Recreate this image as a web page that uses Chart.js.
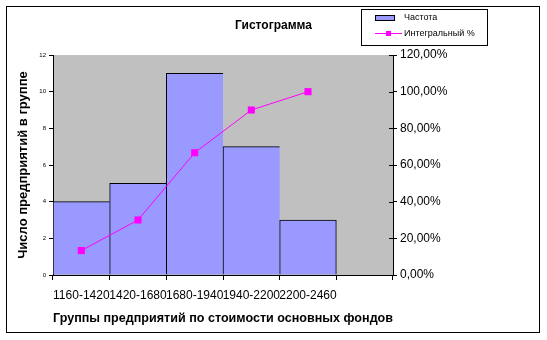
<!DOCTYPE html>
<html>
<head>
<meta charset="utf-8">
<script src="https://cdn.jsdelivr.net/npm/chart.js@4.4.0/dist/chart.umd.min.js"></script>
<style>
  body { margin: 0; background: #fff; }
  canvas { display: block; }
</style>
</head>
<body>
<canvas id="hist" width="547" height="340"></canvas>
<script>
// groups by fixed-asset value, last slot left empty like the Excel output
const groups = ["1160-1420", "1420-1680", "1680-1940", "1940-2200", "2200-2460", ""];
const frequency = [4, 5, 11, 7, 3];
const cumulativePct = [13.33, 30, 66.67, 90, 100];

const FONT = "'Liberation Sans', Arial, sans-serif";
const BAR_COLOR = "#9999FF";
const LINE_COLOR = "#FF00FF";

Chart.defaults.color = "#000";
Chart.defaults.font.family = FONT;

// white page, gray plot area, outer frame, boxed legend
const excelLook = {
  id: "excelLook",
  beforeDraw(chart) {
    const { ctx, chartArea: a } = chart;
    ctx.save();
    ctx.fillStyle = "#fff";
    ctx.fillRect(0, 0, chart.width, chart.height);
    ctx.fillStyle = "#C0C0C0";
    ctx.fillRect(a.left, a.top, a.right - a.left, a.bottom - a.top);
    ctx.restore();
  },
  afterDraw(chart) {
    const { ctx } = chart;
    ctx.save();
    // right axis ticks cross the axis line
    const y1 = chart.scales.y1;
    ctx.strokeStyle = "#000";
    ctx.lineWidth = 1;
    y1.ticks.forEach((t, i) => {
      const py = Math.round(y1.getPixelForTick(i)) + 0.5;
      ctx.beginPath();
      ctx.moveTo(y1.left - 4, py);
      ctx.lineTo(y1.left, py);
      ctx.stroke();
    });

    // frame
    ctx.strokeRect(6.5, 6.5, 533, 326);

    // legend
    const bars = chart.data.datasets[1];
    const line = chart.data.datasets[0];
    ctx.fillStyle = "#fff";
    ctx.fillRect(361.5, 9.5, 126, 36);
    ctx.strokeRect(361.5, 9.5, 126, 36);

    ctx.fillStyle = bars.backgroundColor;
    ctx.fillRect(375.5, 15.5, 19, 5);
    ctx.strokeRect(375.5, 15.5, 19, 5);

    ctx.strokeStyle = line.borderColor;
    ctx.beginPath();
    ctx.moveTo(375, 33.5);
    ctx.lineTo(402, 33.5);
    ctx.stroke();
    ctx.fillStyle = line.backgroundColor;
    ctx.fillRect(386, 31, 5, 5);

    ctx.fillStyle = "#000";
    ctx.font = "9px " + FONT;
    ctx.textBaseline = "middle";
    ctx.fillText(bars.label, 404, 18);
    ctx.fillText(line.label, 404, 33.5);
    ctx.restore();
  }
};

new Chart(document.getElementById("hist"), {
  data: {
    labels: groups,
    datasets: [{
      type: "line",
      label: "Интегральный %",
      data: cumulativePct,
      yAxisID: "y1",
      order: 0,
      borderColor: LINE_COLOR,
      backgroundColor: LINE_COLOR,
      borderWidth: 1,
      tension: 0,
      pointStyle: "rect",
      pointRadius: 5,
      pointBorderWidth: 0
    }, {
      type: "bar",
      label: "Частота",
      data: frequency,
      yAxisID: "y",
      order: 1,
      backgroundColor: BAR_COLOR,
      borderColor: "#000",
      borderWidth: (c) => ({ top: 1, left: 1, bottom: 0, right: c.dataIndex === frequency.length - 1 ? 1 : 0 }),
      borderSkipped: false,
      barPercentage: 1,
      categoryPercentage: 1
    }]
  },
  options: {
    responsive: false,
    animation: false,
    layout: { padding: 0 },
    plugins: {
      legend: { display: false },
      tooltip: { enabled: false },
      title: {
        display: true,
        text: "Гистограмма",
        color: "#000",
        font: { size: 12, weight: "bold" },
        padding: { top: 18, bottom: 22.6 }
      }
    },
    scales: {
      x: {
        offset: true,
        grid: { display: true, drawOnChartArea: false, offset: true, tickLength: 5, color: "#000" },
        border: { display: true, color: "#000" },
        ticks: { autoSkip: false, maxRotation: 0, minRotation: 0, padding: 8, font: { size: 12 } },
        title: {
          display: true,
          text: "Группы предприятий по стоимости основных фондов",
          font: { size: 13, weight: "bold" },
          padding: { top: 0, bottom: 14 }
        },
        afterFit(s) { s.height = 65; }
      },
      y: {
        position: "left",
        min: 0,
        max: 12,
        grid: { display: true, drawOnChartArea: false, tickLength: 4, color: "#000" },
        border: { display: true, color: "#000" },
        ticks: { stepSize: 2, padding: 3, font: { size: 6 } },
        title: {
          display: true,
          text: "Число предприятий в группе",
          font: { size: 13, weight: "bold" },
          padding: { top: 16, bottom: 0 }
        },
        afterFit(s) { s.width = 53; }
      },
      y1: {
        position: "right",
        min: 0,
        max: 120,
        grid: { display: true, drawOnChartArea: false, tickLength: 4, color: "#000" },
        border: { display: true, color: "#000" },
        ticks: {
          stepSize: 20,
          padding: 3,
          font: { size: 12 },
          callback: (v) => v.toFixed(2).replace(".", ",") + "%"
        },
        afterFit(s) { s.width = 154; }
      }
    }
  },
  plugins: [excelLook]
});
</script>
</body>
</html>
